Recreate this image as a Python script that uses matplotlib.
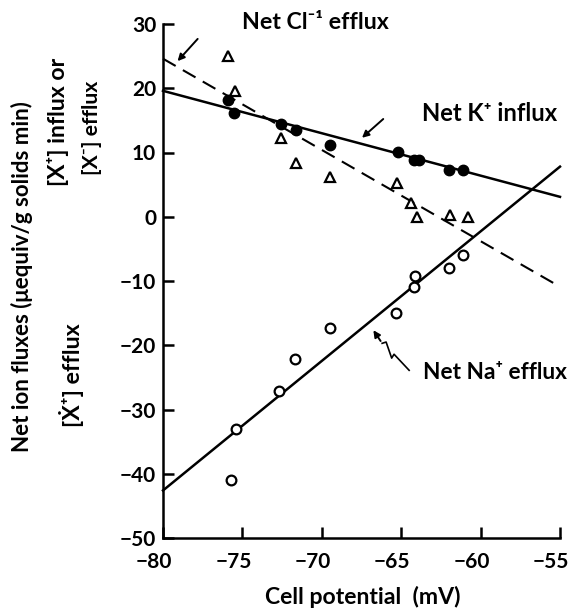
import numpy as np
import matplotlib.pyplot as plt
import matplotlib.transforms as mtransforms
from matplotlib import font_manager

# -------------------------
# Data
# -------------------------
# Net K+ influx (filled circles)
k_mv = [-75.9, -75.5, -72.6, -71.6, -69.5, -65.2, -64.2, -63.85, -62.0, -61.1]
k_flux = [18.2, 16.2, 14.5, 13.5, 11.2, 10.1, 8.9, 8.9, 7.2, 7.3]
k_fit_mv = [-80, -55]
k_fit = [19.6, 3.1]

# Net Cl- efflux (open triangles)
cl_mv = [-75.9, -75.45, -72.6, -71.6, -69.5, -65.25, -64.4, -64.0, -61.9, -60.8]
cl_flux = [25.0, 19.5, 12.2, 8.3, 6.2, 5.3, 2.1, 0.0, 0.3, 0.0]
cl_fit_mv = [-80, -55]
cl_fit = [24.6, -10.9]

# Net Na+ efflux (open circles)
na_mv = [-75.4, -75.7, -72.7, -71.7, -69.5, -65.3, -64.2, -64.1, -62.0, -61.1]
na_flux = [-33.0, -40.9, -27.1, -22.2, -17.3, -15.0, -11.0, -9.2, -8.0, -6.0]
na_fit_mv = [-80, -55]
na_fit = [-42.6, 7.8]

xticks = [-80, -75, -70, -65, -60, -55]
yticks = [-50, -40, -30, -20, -10, 0, 10, 20, 30]

# pick a sans family that really has a bold face
main_font = 'DejaVu Sans'
for fam in ['Lato', 'Open Sans', 'Noto Sans', 'Roboto']:
    try:
        f = font_manager.findfont(font_manager.FontProperties(family=fam, weight='bold'),
                                  fallback_to_default=False)
        if 'bold' in f.lower():
            main_font = fam
            break
    except Exception:
        pass
plt.rcParams['font.family'] = [main_font, 'DejaVu Sans']
plt.rcParams['font.weight'] = 'bold'

fig = plt.figure(figsize=(5.7, 6.1), dpi=100)
ax = fig.add_axes([163/570, 1 - 538/610, 397/570, 514/610])

ax.plot(k_fit_mv, k_fit, color='black', lw=1.8, clip_on=False)
ax.plot(cl_fit_mv, cl_fit, color='black', lw=1.5, ls=(0, (7, 4)), clip_on=False)
ax.plot(na_fit_mv, na_fit, color='black', lw=1.8, clip_on=False)

ax.plot(k_mv, k_flux, 'o', color='black', ms=7.5, clip_on=False)
ax.plot(cl_mv, cl_flux, '^', mfc='white', mec='black', mew=1.6, ms=7, clip_on=False)
ax.plot(na_mv, na_flux, 'o', mfc='white', mec='black', mew=1.6, ms=7, clip_on=False)

ax.set_xlim(-80, -55)
ax.set_ylim(-50, 30)
ax.set_xticks(xticks)
ax.set_yticks(yticks)
ax.tick_params(direction='in', length=8, width=1.8, labelsize=15)
ax.tick_params(axis='x', pad=10)
ax.tick_params(axis='y', pad=5)
shift = mtransforms.ScaledTranslation(-9/100, 0, fig.dpi_scale_trans)
for lab in ax.get_xticklabels():
    lab.set_transform(lab.get_transform() + shift)
for s in ['top', 'right']:
    ax.spines[s].set_visible(False)
for s in ['left', 'bottom']:
    ax.spines[s].set_linewidth(1.8)

# curve labels and pointer arrows
t_cl = ax.text(-75.0, 30.2, 'Net Cl⁻¹ efflux', fontsize=13, va='center', ha='left',
               clip_on=False)
t_k = ax.text(-63.7, 16.1, 'Net K⁺ influx', fontsize=13, va='center', ha='left')
t_na = ax.text(-63.6, -24.3, 'Net Na⁺ efflux', fontsize=13, va='center', ha='left')

arrow = dict(arrowstyle='-|>', color='black', lw=1.4, mutation_scale=10)
ax.annotate('', xy=(-79.2, 23.9), xytext=(-77.7, 28.0), arrowprops=arrow,
            annotation_clip=False)
ax.annotate('', xy=(-67.6, 12.0), xytext=(-66.0, 15.5), arrowprops=arrow)
# squiggly pointer for Na+
sq_x = [-64.5, -65.45, -65.6, -65.95, -66.2]
sq_y = [-23.9, -21.4, -22.0, -19.5, -19.7]
ax.plot(sq_x, sq_y, color='black', lw=1.2)
ax.annotate('', xy=(-66.85, -17.3), xytext=(-66.2, -19.7), arrowprops=arrow)

# axis labels
t_x = fig.text(363/570, 1 - 597/610, 'Cell potential  (mV)', fontsize=13,
               ha='center', va='center')
t_y = fig.text(22/570, 1 - 277/610, 'Net ion fluxes (μequiv/g solids min)',
               fontsize=13, rotation=90, ha='center', va='center')
t_y1 = fig.text(58/570, 1 - 122/610, '[X⁺] influx or', fontsize=13,
                rotation=90, ha='center', va='center')
t_y2 = fig.text(92/570, 1 - 128/610, '[X⁻] efflux', fontsize=13,
                rotation=90, ha='center', va='center')
t_y3 = fig.text(72/570, 1 - 375/610, '[Ẋ⁺] efflux', fontsize=13,
                rotation=90, ha='center', va='center')

# scale each label so its length matches the reference (pixels)
fig.canvas.draw()
r = fig.canvas.get_renderer()
for t, target, vertical in [(t_cl, 146, False), (t_k, 135, False), (t_na, 144, False),
                            (t_x, 195, False), (t_y, 351, True), (t_y1, 128, True),
                            (t_y2, 94, True), (t_y3, 103, True)]:
    bb = t.get_window_extent(r)
    length = bb.height if vertical else bb.width
    t.set_fontsize(t.get_fontsize() * target / length)

fig.savefig('out.png', dpi=100)
